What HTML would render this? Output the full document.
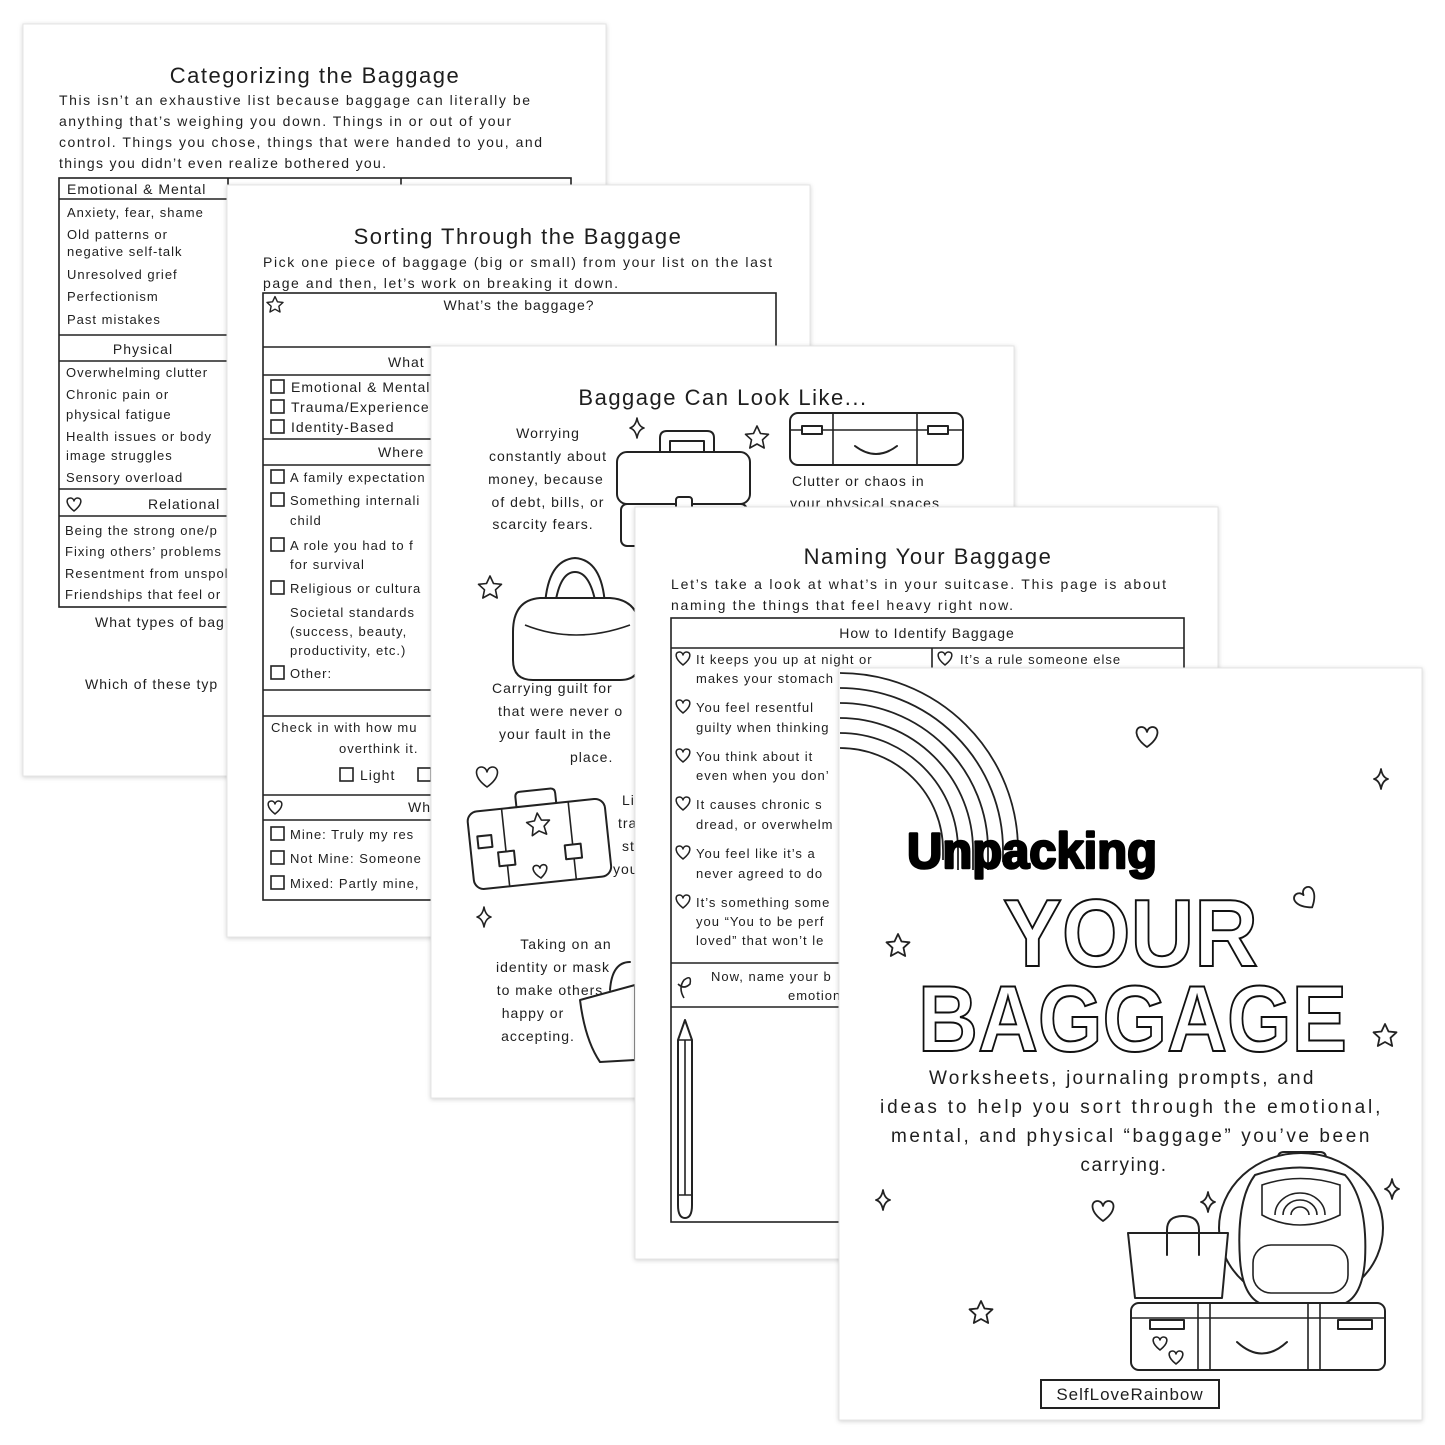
<!DOCTYPE html>
<html><head><meta charset="utf-8"><style>
html,body{margin:0;padding:0;background:#fff;}
svg{display:block;}
text{font-family:"Liberation Sans",sans-serif;fill:#1e1e1e;}
.t{font-size:22px;letter-spacing:1.5px;text-anchor:middle;}
.p{font-size:14px;letter-spacing:1px;}
.s{font-size:13px;letter-spacing:1px;}
.m{text-anchor:middle;}
.ln{stroke:#222;stroke-width:1.6;fill:none;}
.dr{stroke:#222;stroke-width:2;fill:#fff;stroke-linejoin:round;stroke-linecap:round;}
.pg{fill:#fff;stroke:#e4e4e4;stroke-width:1;}
</style></head><body>
<svg width="1445" height="1445" viewBox="0 0 1445 1445" xmlns="http://www.w3.org/2000/svg">
<defs>
<filter id="sh" x="-5%" y="-5%" width="110%" height="110%"><feDropShadow dx="0" dy="1" stdDeviation="2.5" flood-color="#000" flood-opacity="0.18"/></filter>
<path id="heart" d="M0,9 C-14,-1 -12,-11 -5.5,-11 C-2.5,-11 -0.5,-8.5 0,-6 C0.5,-8.5 2.5,-11 5.5,-11 C12,-11 14,-1 0,9Z"/>
<path id="hs" d="M0,6 C-9,-1 -8,-7 -3.6,-7 C-1.6,-7 -0.3,-5.5 0,-4 C0.3,-5.5 1.6,-7 3.6,-7 C8,-7 9,-1 0,6Z"/>
<path id="star" d="M0,-12 L3.5,-4.5 L11.5,-3.7 L5.5,1.8 L7.2,10 L0,6 L-7.2,10 L-5.5,1.8 L-11.5,-3.7 L-3.5,-4.5Z"/>
<path id="dia" d="M0,-10 Q1.5,-1.5 7,0 Q1.5,1.5 0,10 Q-1.5,1.5 -7,0 Q-1.5,-1.5 0,-10Z"/>
<rect id="cb" width="13" height="13"/>
</defs>

<!-- PAGE 1 -->
<rect class="pg" x="23" y="24" width="583" height="752" filter="url(#sh)"/>
<text class="t" x="315" y="83">Categorizing the Baggage</text>
<text class="p" x="59" y="105" textLength="472">This isn’t an exhaustive list because baggage can literally be</text>
<text class="p" x="59" y="126" textLength="453">anything that’s weighing you down. Things in or out of your</text>
<text class="p" x="59" y="147" textLength="484">control. Things you chose, things that were handed to you, and</text>
<text class="p" x="59" y="168" textLength="328">things you didn’t even realize bothered you.</text>
<rect class="ln" x="59" y="178" width="512" height="429"/>
<path class="ln" d="M59 199H571M228 178V607M401 178V199M59 335H228M59 361H228M59 489H228M59 516H228"/>
<text class="p" x="67" y="194">Emotional &amp; Mental</text>
<text class="s" x="67" y="217">Anxiety, fear, shame</text>
<text class="s" x="67" y="239">Old patterns or</text>
<text class="s" x="67" y="256">negative self-talk</text>
<text class="s" x="67" y="279">Unresolved grief</text>
<text class="s" x="67" y="301">Perfectionism</text>
<text class="s" x="67" y="324">Past mistakes</text>
<text class="p m" x="143" y="354">Physical</text>
<text class="s" x="66" y="377">Overwhelming clutter</text>
<text class="s" x="66" y="399">Chronic pain or</text>
<text class="s" x="66" y="419">physical fatigue</text>
<text class="s" x="66" y="441">Health issues or body</text>
<text class="s" x="66" y="460">image struggles</text>
<text class="s" x="66" y="482">Sensory overload</text>
<use href="#hs" x="74" y="505" class="dr" style="stroke-width:1.5"/>
<text class="p" x="148" y="509">Relational</text>
<text class="s" x="65" y="535">Being the strong one/p</text>
<text class="s" x="65" y="556">Fixing others’ problems</text>
<text class="s" x="65" y="578">Resentment from unspok</text>
<text class="s" x="65" y="599">Friendships that feel or</text>
<text class="p" x="95" y="627">What types of bag</text>
<text class="p" x="85" y="689">Which of these typ</text>

<!-- PAGE 2 -->
<rect class="pg" x="227" y="185" width="583" height="752" filter="url(#sh)"/>
<text class="t" x="518" y="244">Sorting Through the Baggage</text>
<text class="p" x="263" y="267" textLength="510">Pick one piece of baggage (big or small) from your list on the last</text>
<text class="p" x="263" y="288" textLength="356">page and then, let’s work on breaking it down.</text>
<rect class="ln" x="263" y="293" width="513" height="607"/>
<path class="ln" d="M263 347H776M263 375H776M263 439H776M263 465H776M263 690H776M263 716H776M263 795H776M263 820H776"/>
<g transform="translate(275 305) scale(0.7)"><use href="#star" class="dr" style="stroke-width:2"/></g>
<text class="p m" x="519" y="310">What’s the baggage?</text>
<text class="p" x="388" y="367">What</text>
<use href="#cb" x="271" y="380" class="ln"/><text class="p" x="291" y="392">Emotional &amp; Mental</text>
<use href="#cb" x="271" y="400" class="ln"/><text class="p" x="291" y="412">Trauma/Experience</text>
<use href="#cb" x="271" y="420" class="ln"/><text class="p" x="291" y="432">Identity-Based</text>
<text class="p" x="378" y="457">Where</text>
<use href="#cb" x="271" y="470" class="ln"/><text class="s" x="290" y="482">A family expectation</text>
<use href="#cb" x="271" y="493" class="ln"/><text class="s" x="290" y="505">Something internali</text>
<text class="s" x="290" y="525">child</text>
<use href="#cb" x="271" y="538" class="ln"/><text class="s" x="290" y="550">A role you had to f</text>
<text class="s" x="290" y="569">for survival</text>
<use href="#cb" x="271" y="581" class="ln"/><text class="s" x="290" y="593">Religious or cultura</text>
<text class="s" x="290" y="617">Societal standards</text>
<text class="s" x="290" y="636">(success, beauty,</text>
<text class="s" x="290" y="655">productivity, etc.)</text>
<use href="#cb" x="271" y="666" class="ln"/><text class="s" x="290" y="678">Other:</text>
<text class="s" x="271" y="732">Check in with how mu</text>
<text class="s" x="339" y="753">overthink it.</text>
<use href="#cb" x="340" y="768" class="ln"/><text class="p" x="360" y="780">Light</text>
<use href="#cb" x="418" y="768" class="ln"/>
<use href="#hs" x="275" y="808" class="dr" style="stroke-width:1.5"/>
<text class="p" x="408" y="812">Wh</text>
<use href="#cb" x="271" y="827" class="ln"/><text class="s" x="290" y="839">Mine: Truly my res</text>
<use href="#cb" x="271" y="851" class="ln"/><text class="s" x="290" y="863">Not Mine: Someone</text>
<use href="#cb" x="271" y="876" class="ln"/><text class="s" x="290" y="888">Mixed: Partly mine,</text>

<!-- PAGE 3 -->
<rect class="pg" x="431" y="346" width="583" height="752" filter="url(#sh)"/>
<text class="t" x="723" y="405">Baggage Can Look Like...</text>
<text class="p m" x="548" y="438">Worrying</text>
<text class="p m" x="548" y="461">constantly about</text>
<text class="p m" x="546" y="484">money, because</text>
<text class="p m" x="548" y="507">of debt, bills, or</text>
<text class="p m" x="543" y="529">scarcity fears.</text>
<text class="p" x="792" y="486">Clutter or chaos in</text>
<text class="p" x="790" y="508">your physical spaces</text>
<text class="p" x="492" y="693">Carrying guilt for</text>
<text class="p" x="498" y="716">that were never o</text>
<text class="p" x="499" y="739">your fault in the</text>
<text class="p" x="570" y="762">place.</text>
<text class="p" x="622" y="805">Li</text>
<text class="p" x="618" y="828">tra</text>
<text class="p" x="622" y="851">st</text>
<text class="p" x="613" y="874">you</text>
<text class="p m" x="566" y="949">Taking on an</text>
<text class="p m" x="553" y="972">identity or mask</text>
<text class="p m" x="550" y="995">to make others</text>
<text class="p m" x="533" y="1018">happy or</text>
<text class="p m" x="538" y="1041">accepting.</text>
<path class="dr" d="M660 452 V438 Q660 431 667 431 H707 Q714 431 714 438 V452 H704 V441 H670 V452Z"/>
<rect class="dr" x="617" y="452" width="133" height="52" rx="10"/>
<rect class="dr" x="621" y="504" width="126" height="42" rx="6"/>
<rect class="dr" x="676" y="497" width="16" height="14" rx="3"/>
<rect class="dr" x="790" y="413" width="173" height="52" rx="8"/>
<path class="ln" d="M790 430H963M833 413V465M917 413V465"/>
<rect class="dr" x="802" y="426" width="20" height="8"/><rect class="dr" x="928" y="426" width="20" height="8"/>
<path class="dr" d="M855 446 Q876 462 897 446" style="fill:none"/>
<use href="#dia" x="637" y="428" class="dr" style="stroke-width:1.6"/>
<use href="#star" x="757" y="438" class="dr" style="stroke-width:1.6"/>
<path class="dr" d="M545 605 Q548 560 575 558 Q602 560 605 605" style="fill:none"/>
<path class="dr" d="M555 605 Q560 572 575 572 Q590 572 596 605" style="fill:none"/>
<path class="dr" d="M513 632 Q513 600 540 598 H610 Q640 600 640 632 V660 Q640 680 620 680 H533 Q513 680 513 660Z"/>
<path class="ln" d="M525 625 Q575 645 630 625"/>
<use href="#star" x="490" y="588" class="dr" style="stroke-width:1.6"/>
<use href="#heart" x="487" y="778" class="dr" style="stroke-width:1.6"/>
<g transform="rotate(-6 539 840)">
<rect class="dr" x="470" y="805" width="138" height="78" rx="10"/>
<path class="dr" d="M520 805 V795 Q520 790 525 790 H555 Q560 790 560 795 V805" style="fill:none"/>
<path class="ln" d="M505 805V883M572 805V883"/>
<rect class="dr" x="497" y="848" width="16" height="14"/><rect class="dr" x="564" y="848" width="16" height="14"/>
<rect class="dr" x="478" y="830" width="14" height="12"/>
<use href="#hs" x="537" y="872" class="dr" style="stroke-width:1.6"/>
<use href="#star" x="540" y="825" class="dr" style="stroke-width:1.6"/>
</g>
<use href="#dia" x="484" y="917" class="dr" style="stroke-width:1.6"/>
<path class="dr" d="M580 1000 L635 985 V1060 L600 1062 Q585 1040 580 1000Z"/>
<path class="dr" d="M610 990 Q612 962 630 962" style="fill:none"/>

<!-- PAGE 4 -->
<rect class="pg" x="635" y="507" width="583" height="752" filter="url(#sh)"/>
<text class="t" x="928" y="564">Naming Your Baggage</text>
<text class="p" x="671" y="589" textLength="496">Let’s take a look at what’s in your suitcase. This page is about</text>
<text class="p" x="671" y="610" textLength="343">naming the things that feel heavy right now.</text>
<rect class="ln" x="671" y="618" width="513" height="604"/>
<path class="ln" d="M671 648H1184M671 963H1184M671 1007H1184M932 648V963"/>
<text class="p m" x="927" y="638">How to Identify Baggage</text>
<use href="#hs" x="683" y="659" class="dr" style="stroke-width:1.5"/>
<text class="s" x="696" y="664">It keeps you up at night or</text>
<text class="s" x="696" y="683">makes your stomach</text>
<use href="#hs" x="945" y="659" class="dr" style="stroke-width:1.5"/>
<text class="s" x="960" y="664">It’s a rule someone else</text>
<use href="#hs" x="683" y="707" class="dr" style="stroke-width:1.5"/>
<text class="s" x="696" y="712">You feel resentful</text>
<text class="s" x="696" y="732">guilty when thinking</text>
<use href="#hs" x="683" y="756" class="dr" style="stroke-width:1.5"/>
<text class="s" x="696" y="761">You think about it</text>
<text class="s" x="696" y="780">even when you don’</text>
<use href="#hs" x="683" y="804" class="dr" style="stroke-width:1.5"/>
<text class="s" x="696" y="809">It causes chronic s</text>
<text class="s" x="696" y="829">dread, or overwhelm</text>
<use href="#hs" x="683" y="853" class="dr" style="stroke-width:1.5"/>
<text class="s" x="696" y="858">You feel like it’s a</text>
<text class="s" x="696" y="878">never agreed to do</text>
<use href="#hs" x="683" y="902" class="dr" style="stroke-width:1.5"/>
<text class="s" x="696" y="907">It’s something some</text>
<text class="s" x="696" y="926">you “You to be perf</text>
<text class="s" x="696" y="945">loved” that won’t le</text>
<path class="ln" d="M684 998 Q678 988 684 980 Q692 974 690 984 Q684 990 678 984"/>
<text class="s" x="711" y="981">Now, name your b</text>
<text class="s" x="788" y="1000">emotion</text>
<path class="dr" d="M678 1040 L685 1020 L692 1040 V1205 Q692 1218 685 1218 Q678 1218 678 1205Z"/>
<path class="ln" d="M678 1040H692M685 1040V1195M678 1195H692"/>

<!-- PAGE 5 cover -->
<rect class="pg" x="839" y="668" width="583" height="752" filter="url(#sh)"/>
<g class="ln" style="stroke-width:1.8">
<path d="M840 673 A178 177 0 0 1 1018 850 V860"/>
<path d="M840 688 A163 162 0 0 1 1003 850 V862"/>
<path d="M840 703 A148 147 0 0 1 988 850 V870"/>
<path d="M840 718 A133 132 0 0 1 973 850 V870"/>
<path d="M840 733 A118 117 0 0 1 958 850 V870"/>
<path d="M840 748 A103 102 0 0 1 943 850 V860"/>
</g>
<text x="907" y="868" textLength="250" lengthAdjust="spacingAndGlyphs" style="font-size:50px;font-weight:bold;fill:#000;stroke:#000;stroke-width:2.5;stroke-linejoin:round">Unpacking</text>
<text x="1003" y="966" textLength="255" lengthAdjust="spacingAndGlyphs" style="font-size:96px;font-weight:bold;fill:#fff;stroke:#111;stroke-width:2">YOUR</text>
<text x="918" y="1051" textLength="429" lengthAdjust="spacingAndGlyphs" style="font-size:94px;font-weight:bold;fill:#fff;stroke:#111;stroke-width:2">BAGGAGE</text>
<g style="font-size:19px;letter-spacing:1.6px">
<text class="m" x="1122" y="1084" textLength="386">Worksheets, journaling prompts, and</text>
<text class="m" x="1131" y="1113" textLength="502">ideas to help you sort through the emotional,</text>
<text class="m" x="1131" y="1142" textLength="480">mental, and physical “baggage” you’ve been</text>
<text class="m" x="1124" y="1171">carrying.</text>
</g>
<use href="#heart" x="1147" y="738" class="dr" style="stroke-width:1.8"/>
<use href="#dia" x="1381" y="779" class="dr" style="stroke-width:1.8"/>
<g transform="translate(1307 900) rotate(-35)"><use href="#heart" class="dr" style="stroke-width:1.8"/></g>
<use href="#star" x="898" y="946" class="dr" style="stroke-width:1.8"/>
<use href="#star" x="1385" y="1036" class="dr" style="stroke-width:1.8"/>
<use href="#dia" x="883" y="1200" class="dr" style="stroke-width:1.8"/>
<use href="#heart" x="1103" y="1212" class="dr" style="stroke-width:1.8"/>
<use href="#dia" x="1208" y="1202" class="dr" style="stroke-width:1.8"/>
<use href="#dia" x="1392" y="1189" class="dr" style="stroke-width:1.8"/>
<use href="#star" x="981" y="1313" class="dr" style="stroke-width:1.8"/>
<path class="dr" d="M1278 1168 V1158 Q1278 1152 1284 1152 H1320 Q1326 1152 1326 1158 V1168"/>
<ellipse class="dr" cx="1301" cy="1228" rx="82" ry="75"/>
<path class="dr" d="M1255 1175 Q1300 1160 1345 1175 Q1368 1200 1365 1260 Q1362 1300 1340 1305 H1265 Q1243 1300 1240 1260 Q1236 1200 1255 1175Z"/>
<path class="ln" d="M1262 1185 Q1300 1172 1340 1185 V1215 Q1320 1225 1300 1225 Q1280 1225 1262 1215Z"/>
<path class="ln" d="M1275 1215 A25 22 0 0 1 1325 1215 M1283 1215 A17 15 0 0 1 1317 1215 M1291 1215 A9 8 0 0 1 1309 1215"/>
<rect class="ln" x="1253" y="1245" width="95" height="48" rx="18"/>
<path class="dr" d="M1128 1233 H1228 L1222 1298 H1135Z"/>
<path class="dr" d="M1167 1255 V1230 Q1167 1216 1183 1216 Q1199 1216 1199 1230 V1255" style="fill:none"/>
<rect class="dr" x="1131" y="1303" width="254" height="67" rx="8"/>
<path class="ln" d="M1131 1318H1385M1198 1303V1370M1210 1303V1370M1308 1303V1370M1320 1303V1370"/>
<rect class="dr" x="1150" y="1320" width="34" height="9"/><rect class="dr" x="1338" y="1320" width="34" height="9"/>
<path class="dr" d="M1237 1342 Q1262 1365 1287 1342" style="fill:none"/>
<use href="#hs" x="1160" y="1344" class="dr" style="stroke-width:1.6"/>
<use href="#hs" x="1176" y="1358" class="dr" style="stroke-width:1.6"/>
<rect class="ln" x="1041" y="1380" width="178" height="28" style="stroke-width:2"/>
<text class="m" x="1130" y="1400" style="font-size:17px;letter-spacing:1px">SelfLoveRainbow</text>
</svg>
</body></html>
